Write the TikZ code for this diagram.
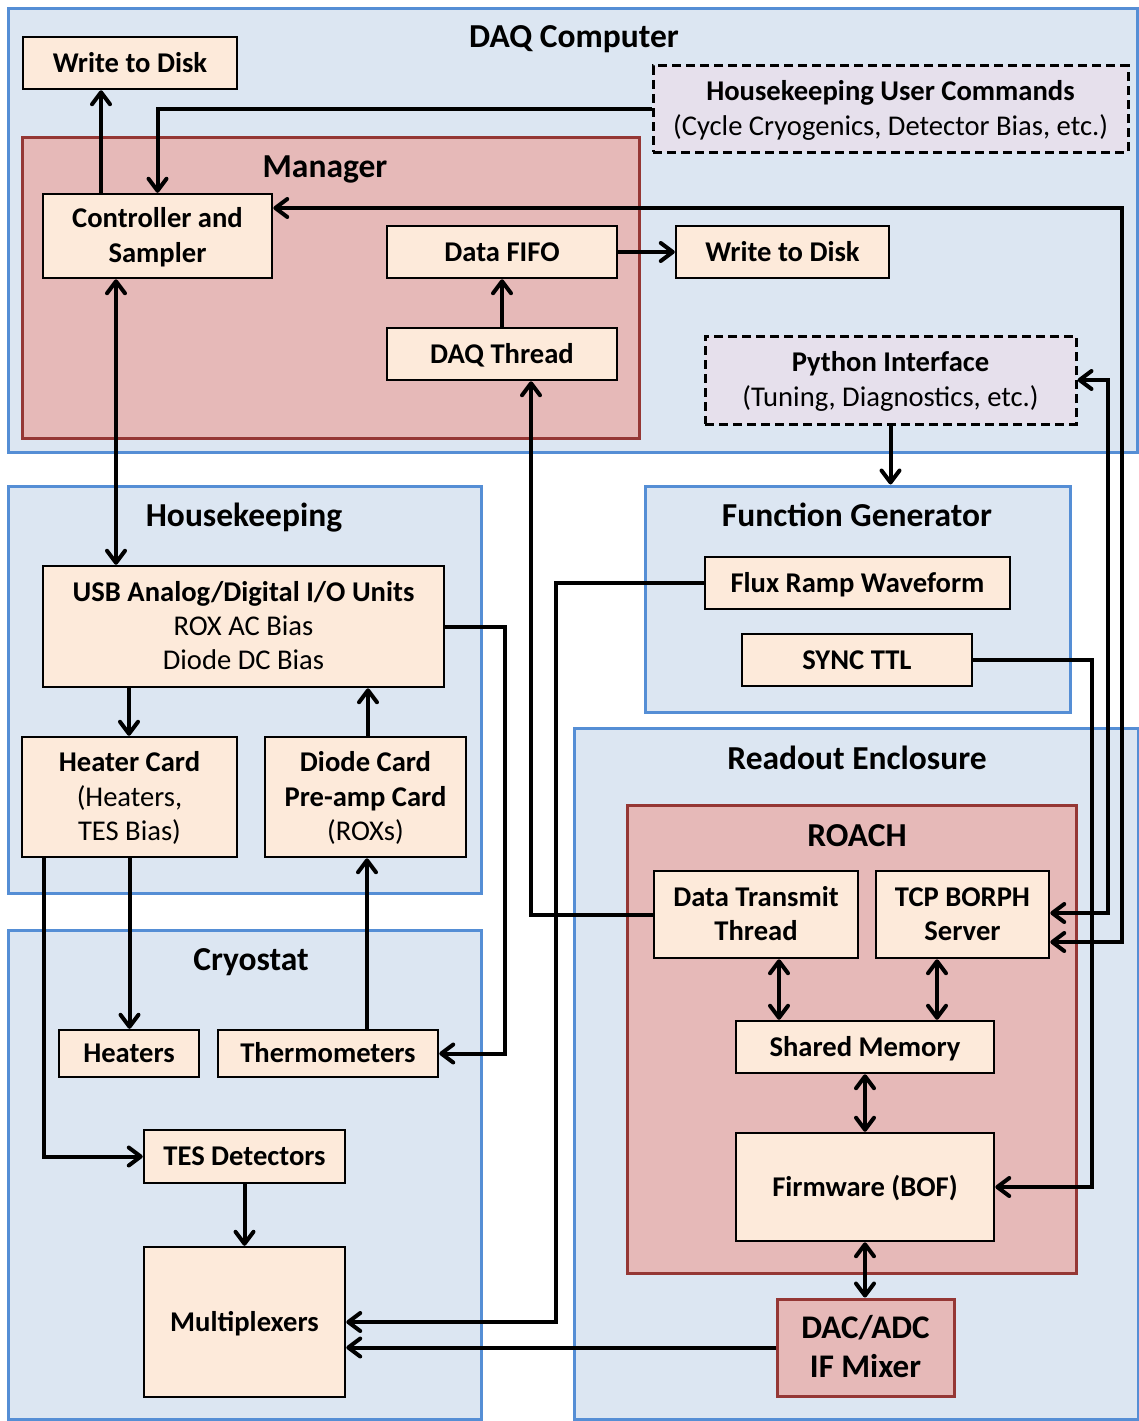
\documentclass[tikz,border=0pt]{standalone}
\usepackage{fontspec}
\setmainfont{Carlito}
\usetikzlibrary{arrows.meta}
\definecolor{panelfill}{HTML}{DCE6F2}
\definecolor{panelline}{HTML}{558ED5}
\definecolor{groupfill}{HTML}{E6B9B8}
\definecolor{groupline}{HTML}{953735}
\definecolor{boxfill}{HTML}{FDEADA}
\definecolor{userfill}{HTML}{E6E0EC}
% line struts: keep the caps of every line centred on the line pitch
\newcommand\lnstrut{\rule[-8pt]{0pt}{34pt}}
\newcommand\bigstrut{\rule[-9.5pt]{0pt}{39pt}}
\newcommand\lite[1]{{\mdseries #1}}

\begin{document}
\begin{tikzpicture}[x=1pt,y=-1pt,
  panel/.style={draw=panelline, fill=panelfill, line width=3pt, rectangle, inner sep=0pt},
  group/.style={draw=groupline, fill=groupfill, line width=3pt, rectangle, inner sep=0pt},
  title/.style={anchor=base, font=\fontsize{33.5}{40}\selectfont\bfseries, inner sep=0pt},
  box/.style={draw=black, fill=boxfill, line width=2.5pt, rectangle, inner sep=0pt,
    align=center, font=\fontsize{28.6}{34.3}\selectfont\bfseries},
  userbox/.style={box, fill=userfill, line width=3pt, dash pattern=on 9pt off 5pt},
  hwbox/.style={box, draw=groupline, fill=groupfill, line width=3pt,
    font=\fontsize{33}{39}\selectfont\bfseries},
  tip/.tip={Straight Barb[length=12pt,width=18pt,round]},
  link/.style={line width=4pt, -tip},
  link2/.style={line width=4pt, tip-tip}
]
\useasboundingbox (0,0) rectangle (1139,1421);

% ---- enclosures ----
\node[panel, minimum width=1129pt, minimum height=443pt] (daq) at (572.5,230.5) {};
\node[group, minimum width=617pt, minimum height=301pt] (mgr) at (330.5,287.5) {};
\node[panel, minimum width=473pt, minimum height=407pt] (hk) at (244.5,689.5) {};
\node[panel, minimum width=425pt, minimum height=226pt] (fg) at (857.5,599) {};
\node[panel, minimum width=564pt, minimum height=691pt] (ro) at (856,1073.5) {};
\node[group, minimum width=449pt, minimum height=468pt] (roach) at (851.5,1039) {};
\node[panel, minimum width=473pt, minimum height=489pt] (cry) at (244.5,1174.5) {};

% ---- enclosure titles ----
\node[title] (tdaq) at (574,48) {DAQ Computer};
\node[title] (tmgr) at (325,177) {Manager};
\node[title] (thk) at (244,526) {Housekeeping};
\node[title] (tfg) at (857,526) {Function Generator};
\node[title] (tro) at (857,769) {Readout Enclosure};
\node[title] (troach) at (857,846) {ROACH};
\node[title] (tcry) at (251,970) {Cryostat};

% ---- blocks ----
\node[box, minimum width=214pt, minimum height=52pt] (wd1) at (130,63) {\lnstrut Write to Disk};
\node[userbox, minimum width=475pt, minimum height=86pt] (huc) at (890.5,109)
  {\lnstrut Housekeeping User Commands\\ \lnstrut\lite{(Cycle Cryogenics, Detector Bias, etc.)}};
\node[box, minimum width=229pt, minimum height=84pt] (ctrl) at (157.5,236)
  {\lnstrut Controller and\\ \lnstrut Sampler};
\node[box, minimum width=230pt, minimum height=52pt] (fifo) at (502,252) {\lnstrut Data FIFO};
\node[box, minimum width=213pt, minimum height=52pt] (wd2) at (782.5,252) {\lnstrut Write to Disk};
\node[box, minimum width=230pt, minimum height=52pt] (daqt) at (502,354) {\lnstrut DAQ Thread};
\node[userbox, minimum width=371pt, minimum height=88pt] (py) at (890.5,380)
  {\lnstrut Python Interface\\ \lnstrut\lite{(Tuning, Diagnostics, etc.)}};

\node[box, minimum width=401pt, minimum height=121pt] (usb) at (243.5,626.5)
  {\lnstrut USB Analog/Digital I/O Units\\ \lite{ROX AC Bias}\\ \lnstrut\lite{Diode DC Bias}};
\node[box, minimum width=215pt, minimum height=120pt] (heatc) at (129.5,797)
  {\lnstrut Heater Card\\ \lite{(Heaters,}\\ \lnstrut\lite{TES Bias)}};
\node[box, minimum width=201pt, minimum height=120pt] (diode) at (365.5,797)
  {\lnstrut Diode Card\\ Pre-amp Card\\ \lnstrut\lite{(ROXs)}};

\node[box, minimum width=305pt, minimum height=52pt] (flux) at (857.5,583) {\lnstrut Flux Ramp Waveform};
\node[box, minimum width=230pt, minimum height=52pt] (sync) at (857,660) {\lnstrut SYNC TTL};

\node[box, minimum width=204pt, minimum height=87pt] (dtt) at (756,914.5)
  {\lnstrut Data Transmit\\ \lnstrut Thread};
\node[box, minimum width=173pt, minimum height=87pt] (tcp) at (962.5,914.5)
  {\lnstrut TCP BORPH\\ \lnstrut Server};
\node[box, minimum width=258pt, minimum height=52pt] (shm) at (865,1047) {\lnstrut Shared Memory};
\node[box, minimum width=258pt, minimum height=108pt] (fw) at (865,1187) {\lnstrut Firmware (BOF)};
\node[hwbox, minimum width=177pt, minimum height=97pt] (dac) at (865.5,1347.5)
  {\bigstrut DAC/ADC\\ \bigstrut IF Mixer};

\node[box, minimum width=140pt, minimum height=47pt] (heaters) at (129,1053.5) {\lnstrut Heaters};
\node[box, minimum width=220pt, minimum height=47pt] (thermo) at (328,1053.5) {\lnstrut Thermometers};
\node[box, minimum width=201pt, minimum height=53pt] (tes) at (244.5,1156.5) {\lnstrut TES Detectors};
\node[box, minimum width=201pt, minimum height=150pt] (mux) at (244.5,1322) {\lnstrut Multiplexers};

% ---- attachment points off the anchor centres ----
\coordinate (ctrlup) at ([xshift=-56.5pt]ctrl.north);
\coordinate (ctrlhk) at ([xshift=-41.5pt]ctrl.south);
\coordinate (usbhc) at ([xshift=-114.5pt]usb.south);
\coordinate (diodeup) at ([xshift=2.5pt]diode.north);
\coordinate (hcout) at ([xshift=-85.5pt]heatc.south);
\coordinate (thup) at ([xshift=39pt]thermo.north);
\coordinate (dttdn) at ([xshift=23pt]dtt.south);
\coordinate (tcpdn) at ([xshift=-25.5pt]tcp.south);

% ---- data and control paths ----
\draw[link] (ctrlup) -- (ctrlup |- wd1.south);
\draw[link] (huc.west) -| (ctrl.north);
\draw[link2] ([yshift=28pt]ctrl.east) -| (1122,942) -- ([yshift=-27.5pt]tcp.east);
\draw[link2] (py.east) -| (1108,913) -- ([yshift=1.5pt]tcp.east);
\draw[link] (py.south) -- (py.south |- fg.north);
\draw[link] (fifo.east) -- (wd2.west);
\draw[link] (daqt.north) -- (fifo.south);
\draw[link] (dtt.west) -| ([xshift=29pt]daqt.south);
\draw[link2] (ctrlhk) -- (ctrlhk |- usb.north);
\draw[link] (usbhc) -- (usbhc |- heatc.north);
\draw[link] (diodeup) -- (diodeup |- usb.south);
\draw[link] (usb.east) -| (505,1053.5) -- (thermo.east);
\draw[link] (heatc.south) -- (heatc.south |- heaters.north);
\draw[link] (hcout) |- (tes.west);
\draw[link] (thup) -- (thup |- diode.south);
\draw[link] (tes.south) -- (mux.north);
\draw[link] (flux.west) -| (556,1322) -- (mux.east);
\draw[link] (dac.west) -- (dac.west -| mux.east);
\draw[link] (sync.east) -| (1092,1187) -- (fw.east);
\draw[link2] (dttdn) -- (dttdn |- shm.north);
\draw[link2] (tcpdn) -- (tcpdn |- shm.north);
\draw[link2] (shm.south) -- (fw.north);
\draw[link2] (fw.south) -- (fw.south |- dac.north);
\end{tikzpicture}
\end{document}
